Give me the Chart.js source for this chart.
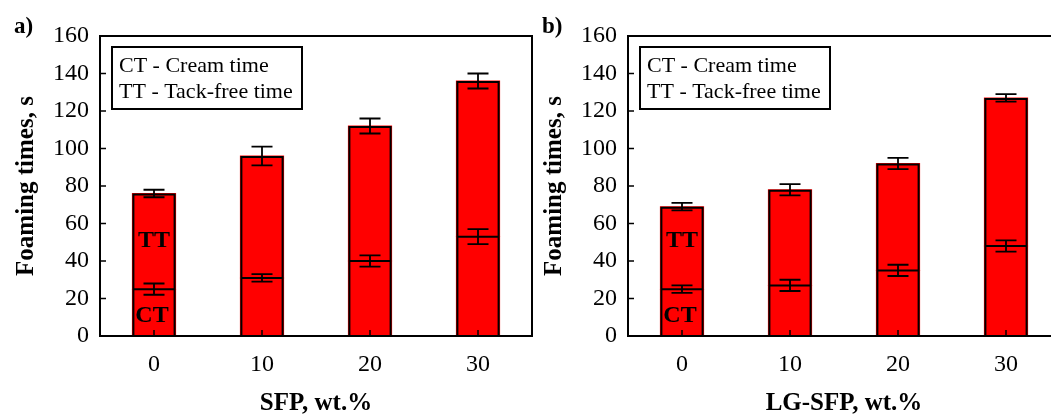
<!DOCTYPE html>
<html>
<head>
<meta charset="utf-8">
<script src="https://cdn.jsdelivr.net/npm/chart.js@4.4.1/dist/chart.umd.min.js"></script>
<style>
  html, body { margin: 0; padding: 0; background: #fff; overflow: hidden; }
  body { width: 1051px; height: 414px; position: relative; }
  canvas { position: absolute; top: 0; }
  #chartA { left: 0; }
  #chartB { left: 528px; }
</style>
</head>
<body>
<canvas id="chartA" width="540" height="414"></canvas>
<canvas id="chartB" width="540" height="414"></canvas>
<script>
const categories = ['0', '10', '20', '30'];

// panel a) SFP
const creamTimeA = [25, 31, 40, 53];
const creamErrA = [3, 2, 3, 4];
const tackFreeA = [76, 96, 112, 136];
const tackFreeErrA = [2, 5, 4, 4];

// panel b) LG-SFP
const creamTimeB = [25, 27, 35, 48];
const creamErrB = [2, 3, 3, 3];
const tackFreeB = [69, 78, 92, 127];
const tackFreeErrB = [2, 3, 3, 2];

// y axis
const yMin = 0;
const yMax = 160;
const yStep = 20;

const legendLines = ['CT - Cream time', 'TT - Tack-free time'];
const serif = "'Liberation Serif', 'Times New Roman', serif";

function drawErrorBar(ctx, x, yLow, yHigh, cap) {
    ctx.beginPath();
    ctx.moveTo(x, yLow);
    ctx.lineTo(x, yHigh);
    ctx.moveTo(x - cap, yLow);
    ctx.lineTo(x + cap, yLow);
    ctx.moveTo(x - cap, yHigh);
    ctx.lineTo(x + cap, yHigh);
    ctx.stroke();
}

// bar outlines, error bars, frame, inward ticks, labels and the text box
const extrasPlugin = {
    id: 'extras',
    afterDatasetsDraw(chart, args, opts) {
        let ctx = chart.ctx;
        let area = chart.chartArea;
        let xs = chart.scales.x;
        let ys = chart.scales.y;
        ctx.save();
        ctx.strokeStyle = '#000';
        ctx.fillStyle = '#000';

        // outline of each stacked bar + divider at cream time
        ctx.lineWidth = 2;
        let ctBars = chart.getDatasetMeta(0).data;
        let ttBars = chart.getDatasetMeta(1).data;
        ctBars.forEach((bar, i) => {
            let half = bar.width / 2 - 1;
            let top = ttBars[i].y + 1;
            ctx.beginPath();
            ctx.moveTo(bar.x - half, bar.base);
            ctx.lineTo(bar.x - half, top);
            ctx.lineTo(bar.x + half, top);
            ctx.lineTo(bar.x + half, bar.base);
            ctx.moveTo(bar.x - half, bar.y);
            ctx.lineTo(bar.x + half, bar.y);
            ctx.stroke();
        });

        ctx.lineWidth = 1.8;
        categories.forEach((c, i) => {
            let x = xs.getPixelForValue(i);
            drawErrorBar(ctx, x, ys.getPixelForValue(opts.ct[i] - opts.ctErr[i]), ys.getPixelForValue(opts.ct[i] + opts.ctErr[i]), 10.5);
            drawErrorBar(ctx, x, ys.getPixelForValue(opts.tt[i] - opts.ttErr[i]), ys.getPixelForValue(opts.tt[i] + opts.ttErr[i]), 10.5);
        });

        // frame
        ctx.lineWidth = 2;
        ctx.strokeRect(area.left, area.top, area.right - area.left, area.bottom - area.top);

        // ticks pointing inside
        ctx.lineWidth = 1.5;
        ctx.beginPath();
        for (let v = yMin; v <= yMax; v += yStep) {
            let y = ys.getPixelForValue(v);
            ctx.moveTo(area.left, y);
            ctx.lineTo(area.left + 6, y);
        }
        categories.forEach((c, i) => {
            let x = xs.getPixelForValue(i);
            ctx.moveTo(x, area.bottom);
            ctx.lineTo(x, area.bottom - 6);
        });
        ctx.stroke();

        // TT / CT inside the first bar
        ctx.font = 'bold 24px ' + serif;
        ctx.textAlign = 'center';
        ctx.textBaseline = 'middle';
        let x0 = xs.getPixelForValue(0);
        ctx.fillText('TT', x0, ys.getPixelForValue(51));
        ctx.fillText('CT', x0 - 2, ys.getPixelForValue(11));

        // text box
        let bx = area.left + 12;
        let by = area.top + 11;
        ctx.lineWidth = 2;
        ctx.fillStyle = '#fff';
        ctx.fillRect(bx, by, 190, 62);
        ctx.strokeRect(bx, by, 190, 62);
        ctx.fillStyle = '#000';
        ctx.font = '22px ' + serif;
        ctx.textAlign = 'left';
        ctx.textBaseline = 'alphabetic';
        ctx.fillText(legendLines[0], bx + 7, by + 25);
        ctx.fillText(legendLines[1], bx + 7, by + 51);

        // panel letter
        ctx.font = 'bold 23px ' + serif;
        ctx.fillText(opts.letter, 14, 33);
        ctx.restore();
    }
};

function createPanel(id, letter, xTitle, ct, ctErr, tt, ttErr) {
    new Chart(id, {
        type: 'bar',
        data: {
            labels: categories,
            datasets: [{
                data: ct,
                backgroundColor: '#ff0000',
                borderWidth: 0,
                inflateAmount: 0.5
            }, {
                data: tt.map((v, i) => v - ct[i]),
                backgroundColor: '#ff0000',
                borderWidth: 0,
                inflateAmount: 0.5
            }]
        },
        options: {
            responsive: false,
            animation: false,
            devicePixelRatio: 1,
            layout: { padding: { left: 0, top: 36, right: 8, bottom: 0 } },
            datasets: { bar: { categoryPercentage: 1, barPercentage: 0.4 } },
            plugins: {
                legend: { display: false },
                tooltip: { enabled: false },
                extras: { letter: letter, ct: ct, ctErr: ctErr, tt: tt, ttErr: ttErr }
            },
            scales: {
                x: {
                    stacked: true,
                    grid: { display: false, drawTicks: false },
                    border: { display: false },
                    ticks: { color: '#000', padding: 14, font: { family: serif, size: 24 } },
                    title: {
                        display: true, text: xTitle, color: '#000',
                        padding: { top: 0, bottom: -2 },
                        font: { family: serif, size: 25, weight: 'bold', lineHeight: 1 }
                    },
                    afterFit: s => { s.height = 78; }
                },
                y: {
                    stacked: true,
                    min: yMin,
                    max: yMax,
                    grid: { display: false, drawTicks: false },
                    border: { display: false },
                    ticks: { stepSize: yStep, color: '#000', padding: 11, font: { family: serif, size: 24 } },
                    title: {
                        display: true, text: 'Foaming times, s', color: '#000',
                        padding: { top: 14, bottom: 0 },
                        font: { family: serif, size: 25, weight: 'bold', lineHeight: 1 }
                    },
                    afterFit: s => { s.width = 100; }
                }
            }
        },
        plugins: [extrasPlugin]
    });
}

createPanel('chartA', 'a)', 'SFP, wt.%', creamTimeA, creamErrA, tackFreeA, tackFreeErrA);
createPanel('chartB', 'b)', 'LG-SFP, wt.%', creamTimeB, creamErrB, tackFreeB, tackFreeErrB);
</script>
</body>
</html>
